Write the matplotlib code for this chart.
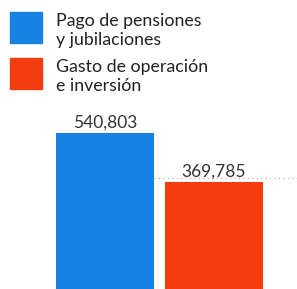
import matplotlib
matplotlib.use("Agg")
import matplotlib.pyplot as plt
from matplotlib.patches import Rectangle

categories = ["Pago de pensiones\ny jubilaciones", "Gasto de operación\ne inversión"]
values = [540803, 369785]
value_labels = ["540,803", "369,785"]
colors = ["#1683e2", "#f43d0e"]

FONT = ["Lato", "DejaVu Sans"]

W, H = 297, 289
fig = plt.figure(figsize=(W / 100, H / 100), dpi=100)
fig.patch.set_facecolor("white")

ax = fig.add_axes([0, 0, 1, (H - 100) / H])
ax.set_facecolor("none")
ymax = values[0] * 189 / 156
ax.set_ylim(0, ymax)
ax.set_xlim(-105 / 109, 1 + (W - 214) / 109)
x = list(range(len(values)))
ax.bar(x, values, width=98 / 109, color=colors, zorder=2)
for xi, v, lab in zip(x, values, value_labels):
    ax.annotate(lab, (xi, v), xytext=(0, 2), textcoords="offset points",
                ha="center", va="bottom", fontsize=12.5, color="#333333",
                family=FONT)
ax.axhline(values[1] * 1.04, xmin=0.52, color="#aaaaaa", lw=0.8,
           ls=(0, (1, 3)), zorder=1)
ax.axis("off")

for i, (cat, c) in enumerate(zip(categories, colors)):
    y0 = 12 + i * 46
    fig.patches.append(Rectangle((10 / W, 1 - (y0 + 31) / H), 32 / W, 31 / H,
                                 transform=fig.transFigure, color=c))
    fig.text(56 / W, 1 - (y0 + 1) / H, cat, ha="left", va="top",
             fontsize=12.8, color="#222222", linespacing=1.22,
             family=FONT)

fig.savefig("out.png", dpi=100, facecolor="white")
